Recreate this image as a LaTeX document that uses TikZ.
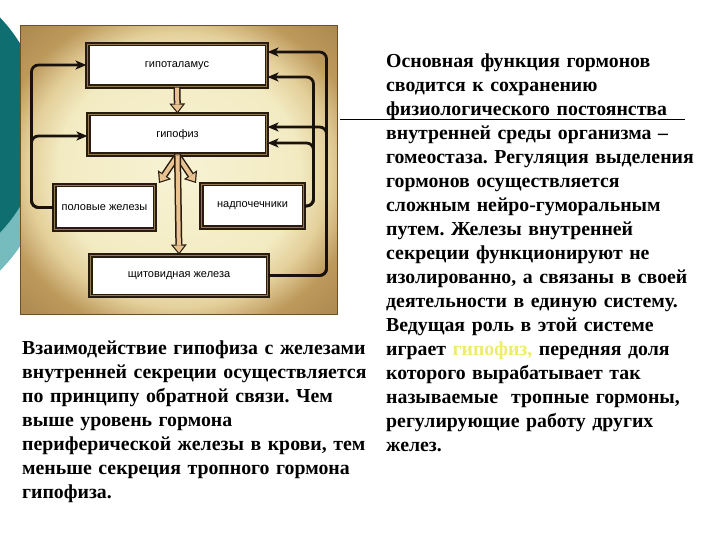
\documentclass[tikz,border=0pt]{standalone}
\usepackage{fontspec}
\setmainfont{Liberation Serif}
\newfontfamily\boxfont{Liberation Sans}
\usetikzlibrary{arrows.meta,positioning}
\frenchspacing

\definecolor{tealdark}{RGB}{14,110,112}
\definecolor{teallight}{RGB}{118,188,190}
\definecolor{boxedge}{RGB}{40,28,16}
\definecolor{boxgap}{RGB}{150,120,80}
\definecolor{peach}{RGB}{233,196,146}
\definecolor{fbline}{RGB}{25,18,12}
\definecolor{hlyellow}{RGB}{236,236,110}
\definecolor{photoedge}{RGB}{110,80,40}

\pgfdeclareradialshading{oldphoto}{\pgfpoint{0bp}{0bp}}{%
	rgb(0bp)=(0.97,0.95,0.83);
	rgb(19bp)=(0.95,0.92,0.76);
	rgb(24bp)=(0.89,0.81,0.60);
	rgb(29bp)=(0.74,0.60,0.36);
	rgb(50bp)=(0.52,0.39,0.20)}

\begin{document}
\begin{tikzpicture}
	[x=1pt,y=-1pt,
	box/.style={draw=boxedge,line width=1.6pt,double=boxgap,double distance=1.3pt,
		fill=white,inner sep=2pt,font=\boxfont\fontsize{11}{13}\selectfont},
	fb/.style={draw=fbline,line width=2.8pt,rounded corners=7pt,
		-{Stealth[length=11pt,width=9pt,inset=3pt]}},
	fat/.style={draw=boxedge,line width=7pt,-{Triangle[width=16pt,length=10pt,line width=0pt]},
		postaction={draw=peach,line width=4pt,shorten >=1.9pt,
			-{Triangle[width=11pt,length=6.9pt,line width=0pt]}}},
	txt/.style={anchor=base west,inner sep=0pt,text width=380pt,align=left,
		font=\fontsize{19.8}{24}\selectfont\bfseries}]
	\useasboundingbox (0,0) rectangle (720,540);
	\begin{scope}
		\clip (0,0) rectangle (720,540);
		\fill[teallight] (-110,160) circle[radius=156pt];
		\fill[tealdark] (-113,125) circle[radius=156pt];
	\end{scope}
	\shade[shading=oldphoto] (20,26) rectangle (337,314);
	\draw[photoedge,line width=1pt] (20,26) rectangle (337,314);

	% glands
	\node[box,minimum width=179.5pt,minimum height=42.5pt] (hyp) at (177,65.5) {гипоталамус};
	\node[box,minimum width=178.5pt,minimum height=40.5pt] (pit) at (177.5,134.5) {гипофиз};
	\node[box,minimum width=100.5pt,minimum height=44.5pt] (gon) at (104.5,207.5) {половые железы};
	\node[box,minimum width=102.5pt,minimum height=43.5pt] (adr) at (252.5,206) {надпочечники};
	\node[box,minimum width=177.5pt,minimum height=40.5pt] (thy) at (179,275.5) {щитовидная железа};

	% feedback
	\foreach \src/\run/\dst/\dy in {gon.west/-22/hyp.west/0.5, gon.west/-22/pit.west/-1.5,
		thy.east/58/hyp.east/13.5, thy.east/58/pit.east/7.5,
		adr.east/9/hyp.east/-11.5, adr.east/9/pit.east/-8.5}
		\draw[fb] (\src) -- ++(\run,0) |- ([yshift=\dy pt]\dst);

	% tropic arrows
	\coordinate (gonin) at (159,183);
	\coordinate (adrin) at (196,183);
	\draw[fat] (hyp.south) -- (pit.north);
	\foreach \endNode in {gonin,adrin,thy.north}
		\draw[fat] (pit.south) -- (\endNode);

	\draw[thin] (340,119) -- (685,119);

	\node[txt] (main) at (386,67.5) {Основная функция гормонов\\
		сводится к сохранению\\
		физиологического постоянства\\
		внутренней среды организма –\\
		гомеостаза. Регуляция выделения\\
		гормонов осуществляется\\
		сложным нейро-гуморальным\\
		путем. Железы внутренней\\
		секреции функционируют не\\
		изолированно, а связаны в своей\\
		деятельности в единую систему.\\
		Ведущая роль в этой системе\\
		играет \textcolor{hlyellow}{гипофиз,} передняя доля\\
		которого вырабатывает так\\
		называемые\ \ тропные гормоны,\\
		регулирующие работу других\\
		желез.};
	\node[txt] (note) at (22,354) {Взаимодействие гипофиза с железами\\
		внутренней секреции осуществляется\\
		по принципу обратной связи. Чем\\
		выше уровень гормона\\
		периферической железы в крови, тем\\
		меньше секреция тропного гормона\\
		гипофиза.};
\end{tikzpicture}
\end{document}
